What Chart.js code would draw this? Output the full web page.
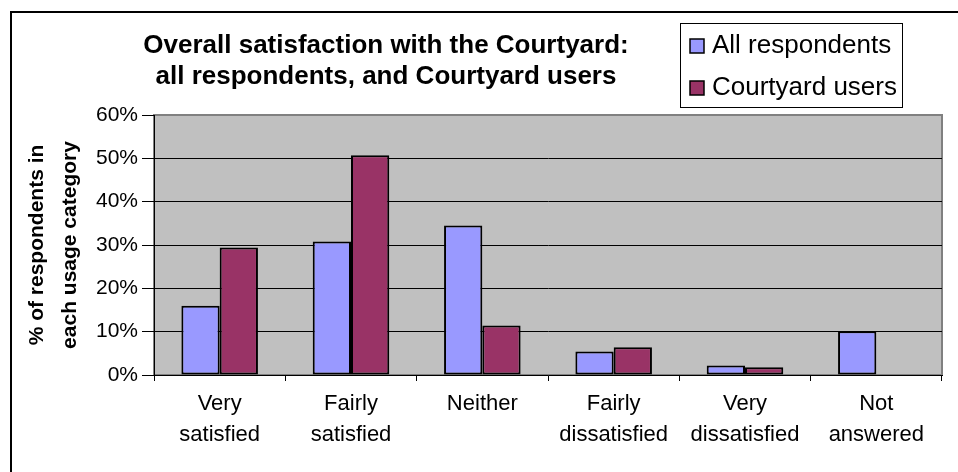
<!DOCTYPE html>
<html>
<head>
<meta charset="utf-8">
<script src="https://cdn.jsdelivr.net/npm/chart.js@4.4.1/dist/chart.umd.min.js"></script>
<style>
html,body{margin:0;padding:0;background:#fff;}
canvas{display:block;}
</style>
</head>
<body>
<canvas id="c" width="958" height="472"></canvas>
<script>
const categories = [
  ['Very', 'satisfied'],
  ['Fairly', 'satisfied'],
  ['Neither'],
  ['Fairly', 'dissatisfied'],
  ['Very', 'dissatisfied'],
  ['Not', 'answered']
];
const allRespondents = [16.0, 30.8, 34.5, 5.4, 2.2, 10.1];
const courtyardUsers = [29.4, 50.7, 11.4, 6.4, 1.8, null];
const seriesNames = ['All respondents', 'Courtyard users'];
const titleLines = ['Overall satisfaction with the Courtyard:', 'all respondents, and Courtyard users'];
const yTitleLines = ['% of respondents in', 'each usage category'];

const FONT = '"Liberation Sans", Arial, sans-serif';

const decorPlugin = {
  id: 'decor',
  beforeDraw(chart) {
    const ctx = chart.ctx;
    const a = chart.chartArea;
    ctx.save();
    ctx.fillStyle = '#fff';
    ctx.fillRect(0, 0, chart.width, chart.height);
    // outer frame
    ctx.strokeStyle = '#000';
    ctx.lineWidth = 2;
    ctx.beginPath();
    ctx.moveTo(11, chart.height + 2);
    ctx.lineTo(11, 12);
    ctx.lineTo(chart.width + 2, 12);
    ctx.stroke();
    // plot area
    ctx.fillStyle = '#C0C0C0';
    ctx.fillRect(a.left, a.top, a.right - a.left, a.bottom - a.top);
    ctx.strokeStyle = '#808080';
    ctx.lineWidth = 2;
    ctx.strokeRect(a.left, a.top, a.right - a.left, a.bottom - a.top);
    // title
    ctx.fillStyle = '#000';
    ctx.font = 'bold 26px ' + FONT;
    ctx.textAlign = 'center';
    ctx.textBaseline = 'alphabetic';
    ctx.fillText(titleLines[0], 386, 53);
    ctx.fillText(titleLines[1], 386, 84);
    // legend
    ctx.fillStyle = '#fff';
    ctx.fillRect(680, 23, 222, 84);
    ctx.strokeStyle = '#000';
    ctx.lineWidth = 1;
    ctx.strokeRect(680.5, 23.5, 222, 84);
    const ds = chart.data.datasets;
    const rows = [53, 95];
    ds.forEach((d, i) => {
      ctx.fillStyle = d.backgroundColor;
      ctx.fillRect(690, rows[i] - 14, 14, 14);
      ctx.strokeStyle = '#000';
      ctx.lineWidth = 1.5;
      ctx.strokeRect(690, rows[i] - 14, 14, 14);
      ctx.fillStyle = '#000';
      ctx.font = '26px ' + FONT;
      ctx.textAlign = 'left';
      ctx.fillText(d.label, 712, rows[i]);
    });
    ctx.restore();
  }
};

new Chart(document.getElementById('c'), {
  type: 'bar',
  data: {
    labels: categories,
    datasets: [
      { label: seriesNames[0], data: allRespondents, backgroundColor: '#9999FF', borderColor: '#000', borderWidth: 2, borderSkipped: false },
      { label: seriesNames[1], data: courtyardUsers, backgroundColor: '#993366', borderColor: '#000', borderWidth: 2, borderSkipped: false }
    ]
  },
  options: {
    responsive: false,
    animation: false,
    devicePixelRatio: 1,
    layout: { padding: { top: 115, right: 16, bottom: 0, left: 0 } },
    datasets: { bar: { categoryPercentage: 0.583, barPercentage: 1 } },
    plugins: {
      legend: { display: false },
      title: { display: false },
      tooltip: { enabled: false }
    },
    scales: {
      x: {
        offset: true,
        afterFit(axis) { axis.height = 97; },
        grid: { offset: true, drawOnChartArea: false, color: '#000', tickColor: '#000', tickLength: 6, lineWidth: 1 },
        border: { display: true, color: '#000', width: 1 },
        ticks: { color: '#000', font: { family: FONT, size: 22, lineHeight: 1.4 }, padding: 8, maxRotation: 0, autoSkip: false }
      },
      y: {
        min: 0, max: 60,
        afterFit(axis) { axis.width = 154; },
        grid: {
          color: (c) => (c.tick && (c.tick.value === 0 || c.tick.value === 60)) ? 'rgba(0,0,0,0)' : '#000',
          tickColor: '#000', tickLength: 12, lineWidth: 1
        },
        border: { display: true, color: '#000', width: 1 },
        ticks: { stepSize: 10, color: '#000', font: { family: FONT, size: 21 }, padding: 4, callback: (v) => v + '%' },
        title: {
          display: true, text: yTitleLines, color: '#000',
          font: { family: FONT, size: 21, weight: 'bold', lineHeight: 1.55 },
          padding: { top: 21, bottom: 0 }
        }
      }
    }
  },
  plugins: [decorPlugin]
});
</script>
</body>
</html>
